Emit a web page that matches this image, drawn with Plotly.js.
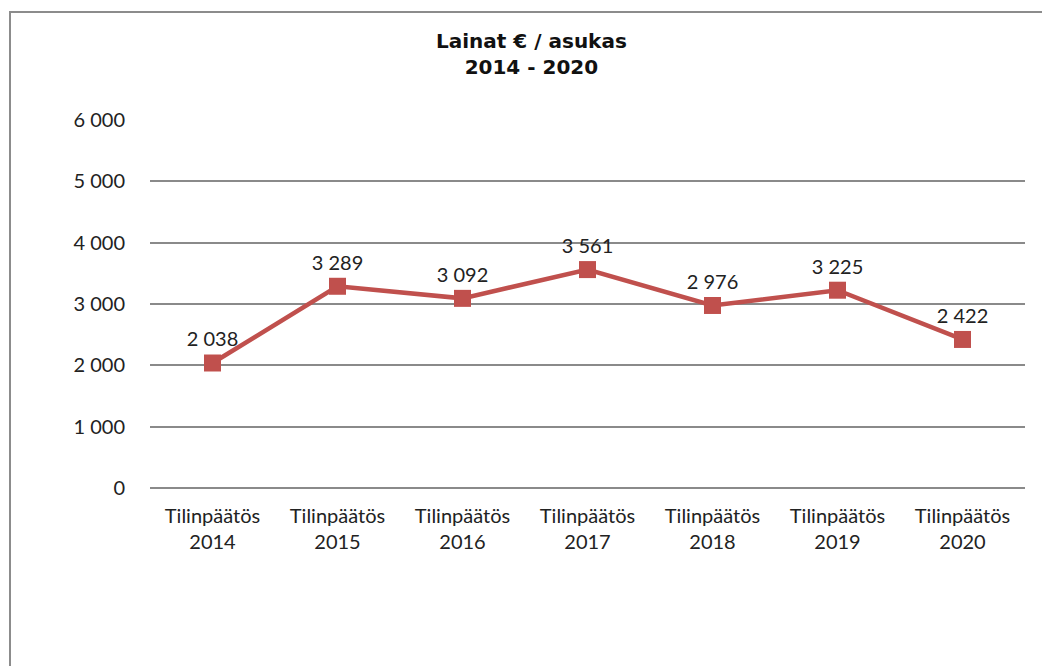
<!DOCTYPE html>
<html>
<head>
<meta charset="utf-8">
<script src="https://cdn.plot.ly/plotly-3.0.1.min.js"></script>
<style>
html,body{margin:0;padding:0;background:#fff;}
#wrap{position:relative;width:1042px;height:666px;overflow:hidden;}
#frame{position:absolute;left:9px;top:11px;width:1100px;height:700px;border-left:2px solid #8c8c8c;border-top:2px solid #8c8c8c;pointer-events:none;}
#chart{position:absolute;left:0;top:0;width:1042px;height:666px;}
</style>
</head>
<body>
<div id="wrap"><div id="chart"></div><div id="frame"></div></div>
<script>
const categories = ["Tilinpäätös<br>2014","Tilinpäätös<br>2015","Tilinpäätös<br>2016","Tilinpäätös<br>2017","Tilinpäätös<br>2018","Tilinpäätös<br>2019","Tilinpäätös<br>2020"];
const values = [2038, 3289, 3092, 3561, 2976, 3225, 2422];
const valueLabels = ["2 038","3 289","3 092","3 561","2 976","3 225","2 422"];
const yTicks = [0,1000,2000,3000,4000,5000,6000];
const yTickLabels = ["0","1 000","2 000","3 000","4 000","5 000","6 000"];

const FONT = 'Lato, "Open Sans", sans-serif';
const trace = {
  x: categories, y: values, type: 'scatter', mode: 'lines+markers+text',
  text: valueLabels, textposition: 'top center',
  textfont: {family: FONT, size: 20, color: '#222'},
  line: {color: '#C0504D', width: 4.5},
  marker: {symbol: 'square', size: 17, color: '#C0504D'},
  cliponaxis: false, hoverinfo: 'skip'
};
const layout = {
  width: 1042, height: 666,
  margin: {l: 150, r: 16.5, t: 120, b: 178},
  paper_bgcolor: '#fff', plot_bgcolor: '#fff',
  showlegend: false,
  title: {text: '<b>Lainat € / asukas<br>2014 - 2020</b>', x: 0.51, xanchor: 'center', y: 0.928, yanchor: 'top',
          font: {family: '"DejaVu Sans", sans-serif', size: 20, color: '#111'}},
  xaxis: {type: 'category', range: [-0.5, 6.5], showgrid: false, zeroline: false, showline: false,
          ticks: '', ticklabelstandoff: 14, tickfont: {family: FONT, size: 20, color: '#222'}},
  yaxis: {range: [0, 6000], tickvals: yTicks, ticktext: yTickLabels, showgrid: true, gridcolor: '#8a8a8a', gridwidth: 2,
          zeroline: true, zerolinecolor: '#8a8a8a', zerolinewidth: 2, showline: false, ticks: 'outside', ticklen: 20, tickcolor: 'rgba(0,0,0,0)',
          tickfont: {family: FONT, size: 20, color: '#222'}}
};
Plotly.newPlot('chart', [trace], layout, {displayModeBar: false, staticPlot: true});
</script>
</body>
</html>
